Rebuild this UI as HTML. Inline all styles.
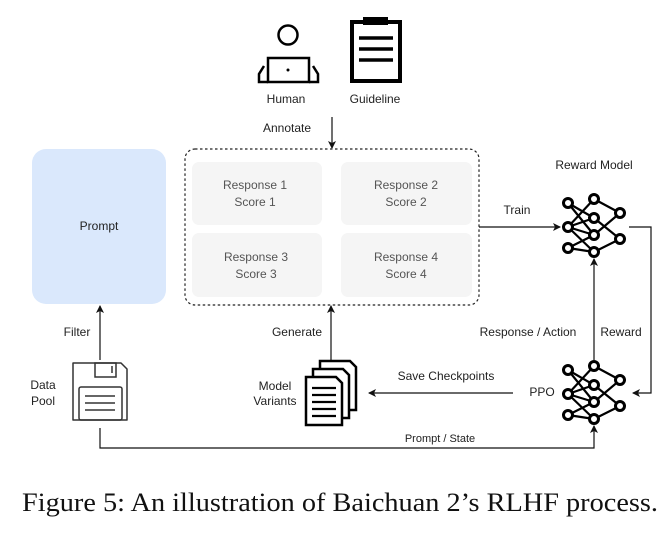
<!DOCTYPE html>
<html><head><meta charset="utf-8"><style>
html,body{margin:0;padding:0;background:#fff;}
svg{display:block;}
text{font-family:"Liberation Sans",Arial,sans-serif;font-size:12px;fill:#222;}
.c{text-anchor:middle;}
.g{fill:#555;}
</style></head><body>
<svg width="669" height="535" viewBox="0 0 669 535" xmlns="http://www.w3.org/2000/svg">
<defs>
<marker id="a" markerWidth="8" markerHeight="8" refX="7" refY="4" orient="auto" markerUnits="userSpaceOnUse">
<path d="M0,0 L8,4 L0,8 L2,4 z" fill="#111"/></marker>
<g id="nn" stroke="#000" stroke-width="2.2" fill="none">
<path d="M568,203 L594,218 M568,203 L594,235 M568,227 L594,199 M568,227 L594,218 M568,227 L594,235 M568,227 L594,252 M568,248 L594,235 M568,248 L594,252 M594,199 L620,213 M594,218 L620,239 M594,235 L620,213 M594,252 L620,239 M594,199 L594,199"/>
<g fill="#fff" stroke-width="3">
<circle cx="568" cy="203" r="4.5"/><circle cx="568" cy="227" r="4.5"/><circle cx="568" cy="248" r="4.5"/>
<circle cx="594" cy="199" r="4.5"/><circle cx="594" cy="218" r="4.5"/><circle cx="594" cy="235" r="4.5"/><circle cx="594" cy="252" r="4.5"/>
<circle cx="620" cy="213" r="4.5"/><circle cx="620" cy="239" r="4.5"/>
</g></g>
</defs>

<!-- Human -->
<circle cx="288" cy="35" r="9.5" fill="none" stroke="#000" stroke-width="2.5"/>
<rect x="268" y="58" width="41" height="24" fill="none" stroke="#000" stroke-width="2.5"/>
<circle cx="288" cy="70" r="1.5" fill="#000"/>
<path d="M264,66 L259,74 L259,82 L268,82 M313,66 L318,74 L318,82 L309,82" fill="none" stroke="#000" stroke-width="2.5"/>
<text x="286" y="103" class="c">Human</text>
<!-- Guideline -->
<rect x="352" y="22" width="48" height="59" fill="none" stroke="#000" stroke-width="4"/>
<rect x="363" y="17" width="25" height="8" fill="#000"/>
<path d="M359,38 H393 M359,49 H393 M359,60 H393" stroke="#000" stroke-width="3.5"/>
<text x="375" y="103" class="c">Guideline</text>

<text x="287" y="132" class="c">Annotate</text>
<line x1="332" y1="117" x2="332" y2="148" stroke="#111" stroke-width="1.2" marker-end="url(#a)"/>

<!-- Prompt -->
<rect x="32" y="149" width="134" height="155" rx="14" fill="#dae8fc"/>
<text x="99" y="230" class="c">Prompt</text>

<!-- Dashed box -->
<rect x="185" y="149" width="294" height="156" rx="10" fill="none" stroke="#222" stroke-width="1.2" stroke-dasharray="2.5,2.5"/>
<rect x="192" y="162" width="130" height="63" rx="7" fill="#f5f5f5"/>
<rect x="341" y="162" width="131" height="63" rx="7" fill="#f5f5f5"/>
<rect x="192" y="233" width="130" height="64" rx="7" fill="#f5f5f5"/>
<rect x="341" y="233" width="131" height="64" rx="7" fill="#f5f5f5"/>
<text x="255" y="189" class="c g">Response 1</text><text x="255" y="206" class="c g">Score 1</text>
<text x="406" y="189" class="c g">Response 2</text><text x="406" y="206" class="c g">Score 2</text>
<text x="256" y="261" class="c g">Response 3</text><text x="256" y="278" class="c g">Score 3</text>
<text x="406" y="261" class="c g">Response 4</text><text x="406" y="278" class="c g">Score 4</text>

<!-- Reward model -->
<text x="594" y="169" class="c">Reward Model</text>
<use href="#nn"/>
<text x="517" y="214" class="c">Train</text>
<line x1="479" y1="227" x2="560" y2="227" stroke="#111" stroke-width="1.2" marker-end="url(#a)"/>
<path d="M629,227 H651 V393 H633" fill="none" stroke="#111" stroke-width="1.2" marker-end="url(#a)"/>

<!-- PPO -->
<use href="#nn" transform="translate(0,167)"/>
<text x="542" y="396" class="c">PPO</text>
<line x1="594" y1="361" x2="594" y2="259" stroke="#111" stroke-width="1.2" marker-end="url(#a)"/>
<text x="528" y="336" class="c">Response / Action</text>
<text x="621" y="336" class="c">Reward</text>

<!-- Data pool floppy -->
<path d="M73,363 H121 L127,369 V420 H73 Z" fill="none" stroke="#333" stroke-width="1.5" stroke-linejoin="round"/>
<rect x="95" y="363" width="21" height="14" fill="none" stroke="#333" stroke-width="1.5"/>
<line x1="112" y1="366" x2="112" y2="373" stroke="#333" stroke-width="1.5"/>
<rect x="79" y="387" width="43" height="33" rx="2" fill="none" stroke="#333" stroke-width="1.5"/>
<path d="M85,396 H115 M85,403 H115 M85,410 H115" stroke="#333" stroke-width="1.5"/>
<text x="43" y="389" class="c">Data</text><text x="43" y="405" class="c">Pool</text>
<text x="77" y="336" class="c">Filter</text>
<line x1="100" y1="360" x2="100" y2="306" stroke="#111" stroke-width="1.2" marker-end="url(#a)"/>

<!-- Prompt / State -->
<path d="M100,428 V448 H594 V426" fill="none" stroke="#111" stroke-width="1.2" marker-end="url(#a)"/>
<text x="440" y="442" class="c" style="font-size:11px">Prompt / State</text>

<!-- Model variants -->
<g fill="#fff" stroke="#000" stroke-width="2.5">
<path d="M320,361 H350 L356,367 V410 H320 Z"/>
<path d="M313,369 H343 L349,375 V418 H313 Z"/>
<path d="M306,377 H336 L342,383 V425 H306 Z"/>
</g>
<path d="M312,388 H336 M312,395 H336 M312,402 H336 M312,409 H336 M312,416 H336" stroke="#000" stroke-width="2.2"/>
<text x="275" y="390" class="c">Model</text><text x="275" y="405" class="c">Variants</text>
<text x="297" y="336" class="c">Generate</text>
<line x1="331" y1="360" x2="331" y2="306" stroke="#111" stroke-width="1.2" marker-end="url(#a)"/>
<text x="446" y="380" class="c">Save Checkpoints</text>
<line x1="513" y1="393" x2="369" y2="393" stroke="#111" stroke-width="1.2" marker-end="url(#a)"/>

<!-- Caption -->
<text x="22" y="511" textLength="636" lengthAdjust="spacingAndGlyphs" style="font-family:'Liberation Serif',serif;font-size:26px;fill:#111">Figure 5:  An illustration of Baichuan 2’s RLHF process.</text>
</svg>
</body></html>
